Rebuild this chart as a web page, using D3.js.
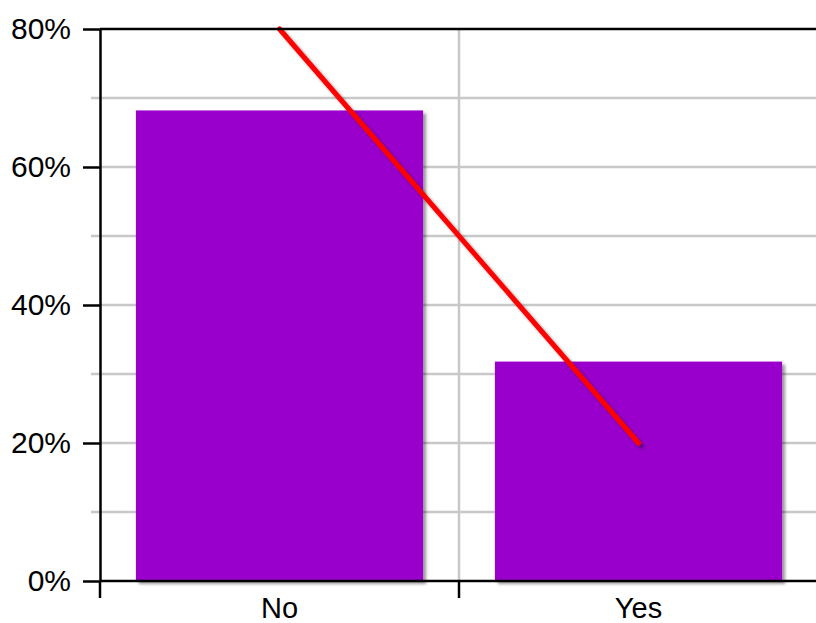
<!DOCTYPE html>
<html><head><meta charset="utf-8">
<script src="https://cdn.jsdelivr.net/npm/d3@7"></script>
<style>html,body{margin:0;padding:0;background:#fff;}svg{display:block;font-family:"Liberation Sans",Arial,sans-serif;}</style>
</head><body>
<script>
const categories = ["No", "Yes"];
const barValues = [68.2, 31.8];
const lineValues = [80, 20];
const yTicks = [0, 20, 40, 60, 80];
const yMinorTicks = [10, 30, 50, 70];

const W = 816, H = 623;
const svg = d3.select("body").append("svg").attr("width", W).attr("height", H);
const defs = svg.append("defs");
const f = defs.append("filter").attr("id", "sh").attr("x", "-10%").attr("y", "-10%").attr("width", "130%").attr("height", "130%");
f.append("feDropShadow").attr("dx", 3).attr("dy", 3).attr("stdDeviation", 1.5).attr("flood-color", "#000").attr("flood-opacity", 0.4);

const x = d3.scaleBand().domain(categories).range([100, 818]).paddingInner(0.2).paddingOuter(0.1);
const xb = d3.scaleBand().domain(categories).range([100, 818]);
const y = d3.scaleLinear().domain([0, 80]).range([581, 29]);

// minor grid
svg.append("g").selectAll("line").data(yMinorTicks).join("line")
  .attr("x1", 91).attr("x2", 818).attr("y1", d => y(d)).attr("y2", d => y(d))
  .attr("stroke", "#c8c8c8").attr("stroke-width", 2.5);
// major grid
svg.append("g").selectAll("line").data(yTicks.filter(d => d > 0 && d < 80)).join("line")
  .attr("x1", 100).attr("x2", 818).attr("y1", d => y(d)).attr("y2", d => y(d))
  .attr("stroke", "#c8c8c8").attr("stroke-width", 2.5);
// vertical grid at band boundaries
svg.append("g").selectAll("line").data(categories.slice(1)).join("line")
  .attr("x1", d => xb(d)).attr("x2", d => xb(d)).attr("y1", y(80)).attr("y2", y(0))
  .attr("stroke", "#c8c8c8").attr("stroke-width", 2.5);

// bars
svg.append("g").attr("filter", "url(#sh)").selectAll("rect").data(categories).join("rect")
  .attr("x", d => x(d)).attr("width", x.bandwidth())
  .attr("y", (d, i) => y(barValues[i])).attr("height", (d, i) => y(0) - y(barValues[i]))
  .attr("fill", "#9900cc");

// line
const line = d3.line().x((d, i) => xb(categories[i]) + xb.bandwidth() / 2).y(d => y(d));
svg.append("path").datum(lineValues).attr("d", line)
  .attr("fill", "none").attr("stroke", "#ff0000").attr("stroke-width", 5).attr("stroke-linecap", "round")
  .attr("filter", "url(#sh)");

// top line (80%)
svg.append("line").attr("x1", 100).attr("x2", 818).attr("y1", y(80)).attr("y2", y(80))
  .attr("stroke", "#000").attr("stroke-width", 2.5);

// y axis
const ya = svg.append("g").attr("transform", "translate(100,0)")
  .call(d3.axisLeft(y).tickValues(yTicks).tickFormat(d => d + "%").tickSize(17).tickSizeOuter(0).tickPadding(12));
ya.select(".domain").attr("stroke-width", 2.5);
ya.selectAll(".tick line").attr("stroke-width", 2.5);
ya.selectAll("text").attr("font-size", 30).attr("font-family", "Liberation Sans, Arial, sans-serif").attr("fill", "#000");

// x axis
const xa = svg.append("g").attr("transform", `translate(0,${y(0)})`)
  .call(d3.axisBottom(xb).tickSize(0).tickSizeOuter(0).tickPadding(16));
xa.select(".domain").attr("stroke-width", 2.5).attr("d", "M100,0H818");
xa.selectAll("text").attr("font-size", 29).attr("font-family", "Liberation Sans, Arial, sans-serif").attr("fill", "#000");
// boundary ticks
xa.append("g").selectAll("line").data([100, xb(categories[1])]).join("line")
  .attr("x1", d => d).attr("x2", d => d).attr("y1", 0).attr("y2", 17)
  .attr("stroke", "#000").attr("stroke-width", 2.5);
</script>
</body></html>
